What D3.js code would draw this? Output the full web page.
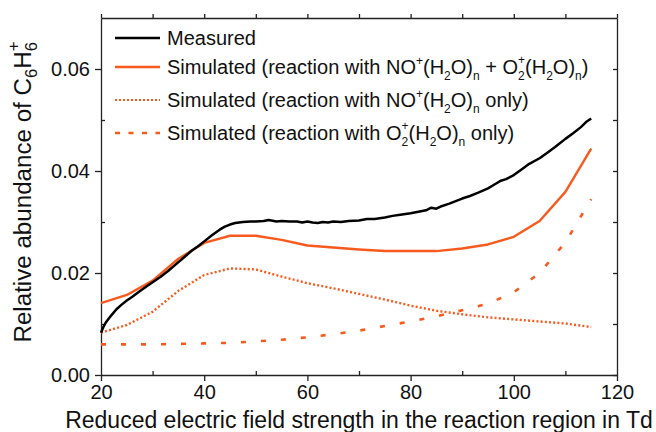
<!DOCTYPE html>
<html>
<head>
<meta charset="utf-8">
<script src="https://cdn.jsdelivr.net/npm/d3@7"></script>
<style>
  body { margin: 0; background: #fff; }
  svg { font-family: 'Liberation Sans', Arial, sans-serif; }
  .axis path, .axis line { stroke: #222; stroke-width: 1.3; }
  .axis text { font-size: 20px; fill: #111; }
</style>
</head>
<body>
<script>
// Measured curve (fine steps)
const measuredTd = [20, 20.5, 21, 22, 23, 24, 25, 26, 27.5, 29, 30, 31.5, 33, 34.5, 36, 37.5, 39, 40,
  41.5, 43, 44, 45, 46, 47.5, 49, 50, 51.5, 52.5, 54, 55, 56.5, 58, 59, 60, 61, 62, 63, 64, 65,
  66.5, 68, 70, 71.5, 73, 75, 76.5, 78, 80, 81.5, 83, 84, 85, 86, 87.5, 89, 90, 91.5, 93, 95,
  96.5, 97.5, 98.5, 100, 101.5, 103, 105, 106.5, 108, 110, 111.5, 113, 114, 115];
const measured = [0.0083, 0.0095, 0.0104, 0.0117, 0.0129, 0.0138, 0.0146, 0.0153, 0.0164, 0.0175,
  0.0182, 0.0192, 0.0204, 0.0217, 0.0230, 0.0243, 0.0254, 0.0262, 0.0274, 0.0285, 0.0291, 0.0295,
  0.0298, 0.0300, 0.0301, 0.0301, 0.0302, 0.0304, 0.0301, 0.0302, 0.0301, 0.0301, 0.0299, 0.0301,
  0.0299, 0.0298, 0.0300, 0.0299, 0.0301, 0.0300, 0.0302, 0.0303, 0.0306, 0.0306, 0.0309, 0.0312,
  0.0314, 0.0317, 0.0320, 0.0323, 0.0328, 0.0326, 0.0331, 0.0336, 0.0342, 0.0346, 0.0351, 0.0357,
  0.0366, 0.0375, 0.0381, 0.0384, 0.0392, 0.0403, 0.0414, 0.0425, 0.0436, 0.0447, 0.0463, 0.0474,
  0.0486, 0.0496, 0.0503];

// Simulated curves (5 Td steps)
const simTd = [20, 25, 30, 35, 40, 45, 50, 55, 60, 65, 70, 75, 80, 85, 90, 95, 100, 105, 110, 115];
const simBoth = [0.0141, 0.0157, 0.0185, 0.0228, 0.0259, 0.0273, 0.0273, 0.0265, 0.0254, 0.0250,
  0.0246, 0.0243, 0.0243, 0.0243, 0.0248, 0.0256, 0.0271, 0.0302, 0.0359, 0.0444];
const simNO = [0.0083, 0.0098, 0.0124, 0.0165, 0.0196, 0.0209, 0.0207, 0.0193, 0.0180, 0.0170,
  0.0159, 0.0148, 0.0136, 0.0126, 0.0119, 0.0113, 0.0109, 0.0105, 0.0101, 0.0094];
const simO2 = [0.0060, 0.0060, 0.0060, 0.0061, 0.0062, 0.0063, 0.0066, 0.0069, 0.0074, 0.0080,
  0.0087, 0.0096, 0.0105, 0.0115, 0.0127, 0.0140, 0.0162, 0.0200, 0.0260, 0.0345];

// Ticks
const xMajor = [20, 40, 60, 80, 100, 120];
const xMinor = [30, 50, 70, 90, 110];
const yMajor = [0, 0.02, 0.04, 0.06];
const yMinor = [0.01, 0.03, 0.05];

const orange = '#f85a1e';
const width = 656;
const height = 432;
const margin = { top: 18, right: 39, bottom: 57, left: 101 };

const svg = d3.select('body')
  .append('svg')
  .attr('width', width)
  .attr('height', height);

const xScale = d3.scaleLinear()
  .domain([20, 120])
  .range([margin.left, width - margin.right]);

const yScale = d3.scaleLinear()
  .domain([0, 0.07])
  .range([height - margin.bottom, margin.top]);

const x0 = xScale.range()[0];
const x1 = xScale.range()[1];
const y0 = yScale.range()[0];
const y1 = yScale.range()[1];

// Axes: majors outward, minors inward
svg.append('g')
  .attr('class', 'axis')
  .attr('transform', `translate(0, ${y0})`)
  .call(d3.axisBottom(xScale).tickValues(xMajor).tickSizeInner(6).tickSizeOuter(0).tickPadding(4));

svg.append('g')
  .attr('class', 'axis')
  .attr('transform', `translate(0, ${y0})`)
  .call(d3.axisBottom(xScale).tickValues(xMinor).tickSize(-4).tickFormat(''))
  .select('.domain').remove();

svg.append('g')
  .attr('class', 'axis')
  .attr('transform', `translate(${x0}, 0)`)
  .call(d3.axisLeft(yScale).tickValues(yMajor).tickSizeInner(6).tickSizeOuter(0).tickPadding(5)
    .tickFormat(d3.format('.2f')));

svg.append('g')
  .attr('class', 'axis')
  .attr('transform', `translate(${x0}, 0)`)
  .call(d3.axisLeft(yScale).tickValues(yMinor).tickSize(-4).tickFormat(''))
  .select('.domain').remove();

// Mirrored frame
svg.append('g')
  .attr('class', 'axis')
  .attr('transform', `translate(0, ${y1})`)
  .call(d3.axisTop(xScale).tickValues(xMajor.concat(xMinor)).tickSizeInner(4).tickSizeOuter(0).tickFormat(''));

svg.append('g')
  .attr('class', 'axis')
  .attr('transform', `translate(${x1}, 0)`)
  .call(d3.axisRight(yScale).tickValues(yMajor.concat(yMinor)).tickSizeInner(-4).tickSizeOuter(0).tickFormat(''));

// Curves
const line = d3.line()
  .x(d => xScale(d[0]))
  .y(d => yScale(d[1]));

const series = [
  { td: simTd, val: simO2, color: orange, dash: '5,15', w: 2.6 },
  { td: simTd, val: simNO, color: orange, dash: '2,2.2', w: 2.4 },
  { td: simTd, val: simBoth, color: orange, dash: null, w: 2.4 },
  { td: measuredTd, val: measured, color: '#000', dash: null, w: 2.5 }
];

series.forEach(s => {
  svg.append('path')
    .datum(s.td.map((t, i) => [t, s.val[i]]))
    .attr('d', line)
    .attr('fill', 'none')
    .attr('stroke', s.color)
    .attr('stroke-width', s.w)
    .attr('stroke-dasharray', s.dash)
    .attr('stroke-linejoin', 'round');
});

// Legend
const leg = svg.append('g').attr('id', 'legend');
const legRows = [
  { y: 38, color: '#000', dash: null, w: 2.6 },
  { y: 67, color: orange, dash: null, w: 2.4 },
  { y: 100, color: orange, dash: '2,2', w: 2.2 },
  { y: 133, color: orange, dash: '5,8.5', w: 2.4 }
];

legRows.forEach(r => {
  leg.append('line')
    .attr('x1', 115).attr('x2', 160)
    .attr('y1', r.y).attr('y2', r.y)
    .attr('stroke', r.color)
    .attr('stroke-width', r.w)
    .attr('stroke-dasharray', r.dash);
});

const legText = (y) => leg.append('text')
  .attr('x', 167)
  .attr('y', y + 7)
  .attr('font-size', 20)
  .attr('fill', '#111');

const sup = (t, s, dy, dx) => t.append('tspan').attr('font-size', 12).attr('dy', dy).attr('dx', dx || 0).text(s);
const sub = (t, s, dy) => t.append('tspan').attr('font-size', 12).attr('dy', dy).text(s);
const base = (t, s, dy) => t.append('tspan').attr('font-size', 20).attr('dy', dy || 0).text(s);

legText(38).text('Measured');

// NO+(H2O)n and O2+(H2O)n pieces, baseline restored at the end of each
const noGroup = (t) => {
  base(t, 'NO'); sup(t, '+', -9); base(t, '(H', 9); sub(t, '2', 6); base(t, 'O)', -6); sub(t, 'n', 6);
  return 6;
};
const o2Group = (t) => {
  base(t, 'O'); sub(t, '2', 6); sup(t, '+', -16, -6.7); base(t, '(H', 10); sub(t, '2', 6); base(t, 'O)', -6); sub(t, 'n', 6);
  return 6;
};

const t2 = legText(67);
base(t2, 'Simulated (reaction with ');
noGroup(t2);
base(t2, ' + ', -6);
o2Group(t2);
base(t2, ')', -6);

const t3 = legText(100);
base(t3, 'Simulated (reaction with ');
noGroup(t3);
base(t3, ' only)', -6);

const t4 = legText(133);
base(t4, 'Simulated (reaction with ');
o2Group(t4);
base(t4, ' only)', -6);

// Axis titles
svg.append('text')
  .attr('x', (x0 + x1) / 2)
  .attr('y', 428)
  .attr('text-anchor', 'middle')
  .attr('font-size', 23)
  .attr('fill', '#111')
  .text('Reduced electric field strength in the reaction region in Td');

const yt = svg.append('text')
  .attr('transform', `translate(31, 192) rotate(-90) scale(1.05, 1)`)
  .attr('text-anchor', 'middle')
  .attr('font-size', 23)
  .attr('fill', '#111');
yt.append('tspan').text('Relative abundance of C');
yt.append('tspan').attr('font-size', 16).attr('dy', 6).text('6');
yt.append('tspan').attr('dy', -6).text('H');
yt.append('tspan').attr('font-size', 16).attr('dy', 6).text('6');
yt.append('tspan').attr('font-size', 16).attr('dy', -18).attr('dx', -8.9).text('+');
</script>
</body>
</html>
